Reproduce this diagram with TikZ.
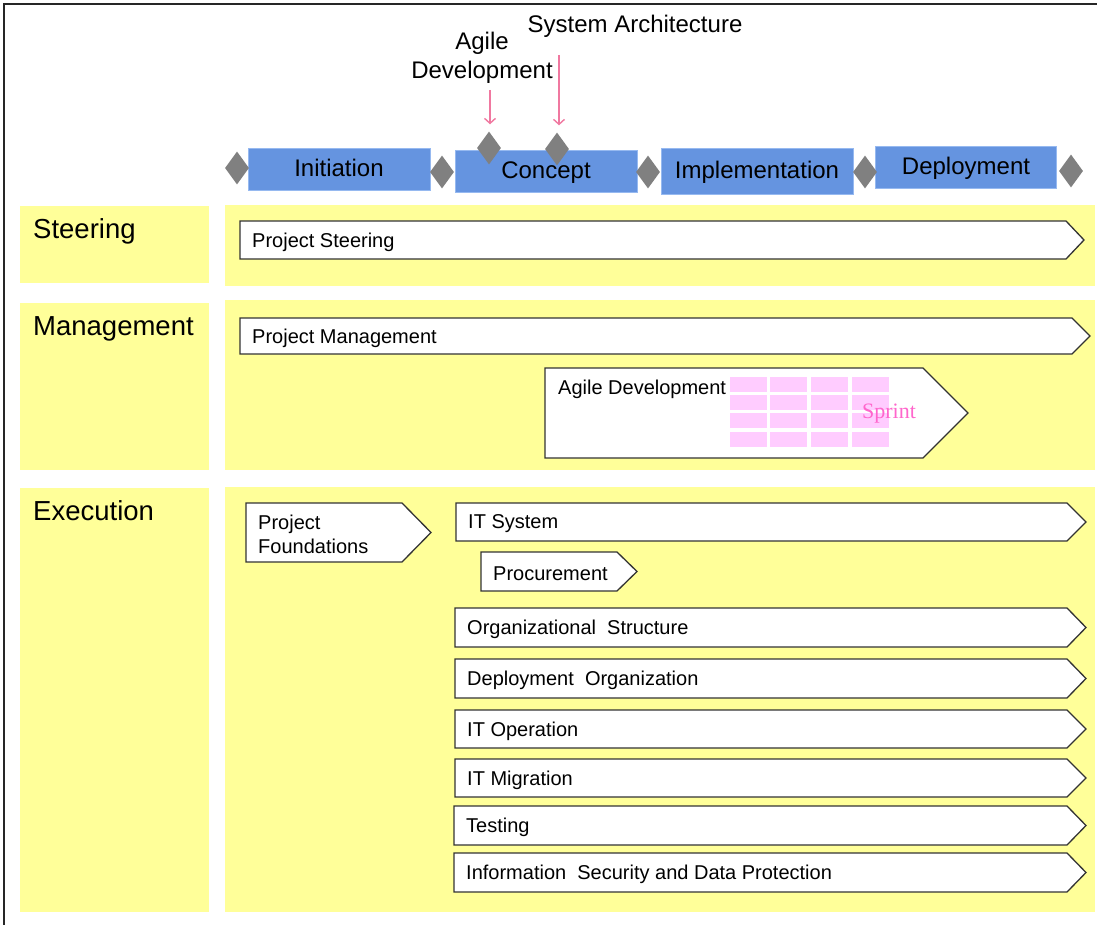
\documentclass[tikz,border=0pt]{standalone}
\usepackage{fontspec}
\setmainfont{Liberation Sans}
\newfontfamily\sprintface{Liberation Serif}
\usetikzlibrary{shapes.geometric,arrows.meta}

\definecolor{laneyellow}{RGB}{255,255,153}
\definecolor{phaseblue}{RGB}{101,148,224}
\definecolor{phaseedge}{RGB}{150,185,240}
\definecolor{msgray}{RGB}{128,128,128}
\definecolor{sprintcell}{RGB}{255,204,255}
\definecolor{sprinttext}{RGB}{255,102,204}
\definecolor{markerpink}{RGB}{240,120,160}

% arrow-shaped work package: name, left, top, straight end, bottom, tip x, label
\newcommand\chevbox[7]{%
  \draw[chev] (#2,#3) -- (#4,#3) -- (#6,{(#3+#5)/2}) -- (#4,#5) -- (#2,#5) -- cycle;
  \node[chevtext] (#1) at (#2+12,{(#3+#5)/2+2}) {#7};
}

\tikzset{
  chev/.style={fill=white, draw=black!80, line width=1.3pt, line join=miter},
  chevtext/.style={anchor=west, inner sep=0pt, align=left, font=\fontsize{20}{24}\selectfont},
  heading/.style={anchor=base west, inner sep=0pt, font=\fontsize{27.5}{32}\selectfont},
  phase/.style={fill=phaseblue, draw=phaseedge, line width=0.8pt, inner sep=0pt,
                text height=18pt, text depth=2pt, font=\fontsize{24}{28}\selectfont},
  milestone/.style={diamond, fill=msgray, inner sep=0pt, minimum width=24pt, minimum height=33pt},
  toplabel/.style={anchor=north, inner sep=0pt, align=center, font=\fontsize{24}{29}\selectfont},
  marker/.style={draw=markerpink, line width=1.4pt, -{Straight Barb[length=5pt,width=11pt]}},
}

\begin{document}
\begin{tikzpicture}[x=1pt, y=-1pt]
\useasboundingbox (0,0) rectangle (1097,925);

% frame
\draw[line width=2pt, black!85] (4,925) -- (4,4) -- (1097,4);

% swim lanes
\fill[laneyellow] (20,206) rectangle (209,283);
\fill[laneyellow] (225,205) rectangle (1095,286);
\fill[laneyellow] (20,303) rectangle (209,470);
\fill[laneyellow] (225,300) rectangle (1095,470);
\fill[laneyellow] (20,488) rectangle (209,912);
\fill[laneyellow] (225,487) rectangle (1095,912);

\node[heading] (hsteer) at (33,239) {Steering};
\node[heading] (hmgmt)  at (33,335) {Management};
\node[heading] (hexec)  at (33,520) {Execution};

% phases
\node[phase, minimum width=182pt, minimum height=42pt] (pinit) at (339,169) {Initiation};
\node[phase, minimum width=182pt, minimum height=42pt] (pconc) at (546,171) {Concept};
\node[phase, minimum width=192pt, minimum height=46pt] (pimpl) at (757,171) {Implementation};
\node[phase, minimum width=181pt, minimum height=42pt] (pdepl) at (966,167) {Deployment};

% milestones
\node[milestone] (m0) at (237,168) {};
\node[milestone] (m1) at (442,172) {};
\node[milestone] (m2) at (648,172) {};
\node[milestone] (m3) at (865,172) {};
\node[milestone] (m4) at (1071,171) {};
\node[milestone] (mag) at (489,148) {};
\node[milestone] (msa) at (557,149) {};

% milestone labels
\node[toplabel] (lag) at (482,32) {Agile\\Development};
\node[toplabel] (lsa) at (635,15) {System Architecture};
\coordinate (agtail) at (490,90);
\coordinate (satail) at (559,55);
\draw[marker, shorten >=7pt] (agtail) -- (agtail |- mag.north);
\draw[marker, shorten >=7pt] (satail) -- (satail |- msa.north);

% steering and management
\chevbox{psteer}{240}{221}{1066}{259}{1084}{Project Steering}
\chevbox{pmgmt}{240}{318}{1072}{354}{1090}{Project Management}

% agile development with sprint backlog
\draw[chev] (545,368) -- (923,368) -- (968,413) -- (923,458) -- (545,458) -- cycle;
\node[anchor=base west, inner sep=0pt, font=\fontsize{20}{24}\selectfont] (agdev) at (558,394) {Agile Development};
\foreach \cx in {730,770,811,852}
  \foreach \cy in {377,395,413,432}
    \fill[sprintcell] (\cx,\cy) rectangle ++(36.5,15);
\node[inner sep=0pt, text=sprinttext, font=\sprintface\fontsize{22}{26}\selectfont] (sprint) at (889,414) {Sprint};

% execution work packages
\chevbox{pfound}{246}{503}{402}{562}{431}{Project\\Foundations}
\chevbox{pitsys}{456}{503}{1067}{541}{1086}{IT System}
\chevbox{pproc}{481}{552}{617}{591}{637}{Procurement}
\chevbox{porg}{455}{608}{1067}{647}{1086}{Organizational\ \ Structure}
\chevbox{pdorg}{455}{659}{1067}{698}{1086}{Deployment\ \ Organization}
\chevbox{pitop}{455}{710}{1067}{748}{1086}{IT Operation}
\chevbox{pitmig}{455}{759}{1067}{797}{1086}{IT Migration}
\chevbox{ptest}{454}{806}{1067}{845}{1086}{Testing}
\chevbox{psec}{454}{853}{1067}{892}{1086}{Information\ \ Security and Data Protection}
\end{tikzpicture}
\end{document}
